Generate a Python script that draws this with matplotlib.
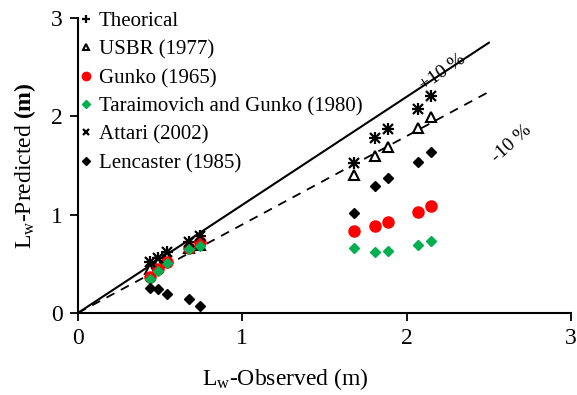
import matplotlib
matplotlib.use("Agg")
import matplotlib.pyplot as plt

plt.rcParams['font.family'] = ['Liberation Serif', 'DejaVu Serif']
plt.rcParams['mathtext.fontset'] = 'custom'
plt.rcParams['mathtext.rm'] = 'Liberation Serif'
plt.rcParams['mathtext.it'] = 'Liberation Serif:italic'
plt.rcParams['mathtext.bf'] = 'Liberation Serif:bold'

observed = [0.44, 0.49, 0.545, 0.675, 0.74, 1.68, 1.81, 1.885, 2.07, 2.15]
theorical = [0.52, 0.56, 0.62, 0.72, 0.78, 1.53, 1.78, 1.87, 2.08, 2.21]
usbr = [0.45, 0.51, 0.57, 0.66, 0.69, 1.40, 1.60, 1.69, 1.885, 1.99]
gunko = [0.37, 0.445, 0.52, 0.66, 0.725, 0.83, 0.885, 0.925, 1.025, 1.09]
taraimovich = [0.35, 0.43, 0.51, 0.65, 0.685, 0.66, 0.62, 0.635, 0.69, 0.73]
attari = [0.52, 0.56, 0.62, 0.72, 0.78, 1.53, 1.78, 1.87, 2.08, 2.21]
lencaster = [0.25, 0.24, 0.195, 0.14, 0.075, 1.02, 1.295, 1.375, 1.54, 1.635]

line_x = [0, 2.5]
plus10 = [0, 2.75]
minus10 = [0, 2.25]

fig = plt.figure(figsize=(5.77, 3.95), dpi=100)
ax = fig.add_axes([0.135, 0.2076, 0.8546, 0.7464])

ax.plot(line_x, plus10, color='black', lw=1.5, zorder=1)
ax.plot(line_x, minus10, color='black', lw=1.3, ls=(0, (5, 4)), zorder=1)

ax.plot(observed, theorical, ls='none', marker='+', color='black', ms=8, mew=1.6, label='Theorical', zorder=3)
ax.plot(observed, usbr, ls='none', marker='^', mfc='white', mec='black', ms=6.5, mew=1.5, label='USBR (1977)', zorder=3)
ax.plot(observed, gunko, ls='none', marker='o', color='#ff0000', ms=8, label='Gunko (1965)', zorder=3)
ax.plot(observed, taraimovich, ls='none', marker='D', color='#00b050', ms=5, label='Taraimovich and Gunko (1980)', zorder=4)
ax.plot(observed, attari, ls='none', marker='x', color='black', ms=6.5, mew=1.6, label='Attari (2002)', zorder=4)
ax.plot(observed, lencaster, ls='none', marker='D', color='black', ms=5.5, label='Lencaster (1985)', zorder=4)

ax.text(2.22, 2.45, '+10 %', rotation=35, ha='center', va='center', fontsize=14)
ax.text(2.64, 1.72, '-10 %', rotation=42, ha='center', va='center', fontsize=14)

ax.set_xlim(0, 3)
ax.set_ylim(0, 3)
ax.set_xticks([0, 1, 2, 3])
ax.set_yticks([0, 1, 2, 3])
ax.tick_params(direction='out', length=6, width=1.3, labelsize=17, pad=5)
for s in ['top', 'right']:
    ax.spines[s].set_visible(False)
for s in ['left', 'bottom']:
    ax.spines[s].set_linewidth(1.5)

ax.set_xlabel('L$_\\mathregular{w}$-Observed (m)', fontsize=17)
ax.xaxis.set_label_coords(0.42, -0.18)
ax.set_ylabel('L$_\\mathregular{w}$-Predicted $\\mathbf{(m)}$', fontsize=17, labelpad=9)

leg = ax.legend(loc='upper left', bbox_to_anchor=(-0.012, 1.05), frameon=False, fontsize=15,
                handlelength=0.5, handletextpad=0.4, labelspacing=0.42, borderaxespad=0,
                markerscale=0.75)

fig.savefig('out.png', dpi=100)
